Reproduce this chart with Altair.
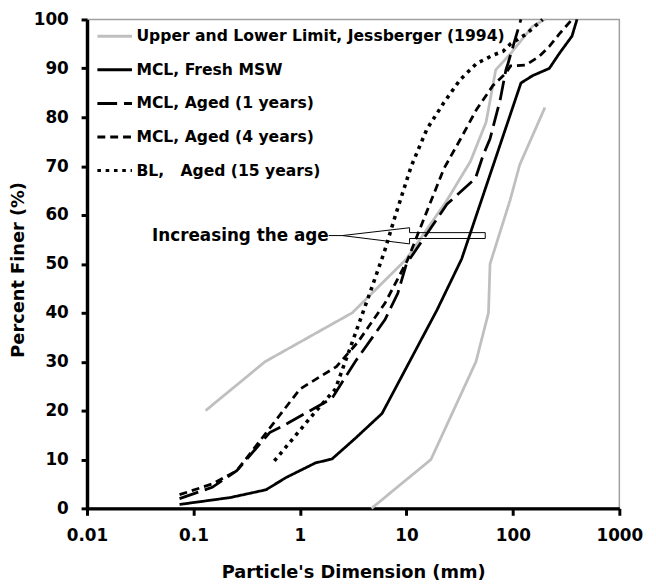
import altair as alt
import pandas as pd

SERIES = [
    "Upper and Lower Limit, Jessberger (1994)",
    "MCL, Fresh MSW",
    "MCL, Aged (1 years)",
    "MCL, Aged (4 years)",
    "BL,\u00a0\u00a0 Aged (15 years)",
]
COLORS = ["#bfbfbf", "black", "black", "black", "black"]
DASHES = [[1, 0], [1, 0], [20, 7], [8, 5], [3.6, 4.8]]

upper_x = [0.13, 0.47, 3.1, 10, 24, 40, 56, 69, 95, 153, 200]
upper_y = [20, 30, 40, 51, 63, 71, 79, 89.7, 93, 98.6, 100]

lower_x = [4.7, 17, 45, 59, 61, 94, 116, 200]
lower_y = [0, 10, 30, 40, 50, 63, 70.3, 82]

fresh_x = [0.074, 0.22, 0.48, 0.74, 1.4, 2.0, 3.3, 5.9, 11, 19.4, 33, 119, 153, 220, 272, 359, 400]
fresh_y = [0.8, 2.2, 3.8, 6.3, 9.3, 10.1, 14.3, 19.4, 30.5, 40.6, 51, 87, 88.5, 90, 93, 96.6, 100]

aged1_x = [0.074, 0.15, 0.255, 0.52, 0.71, 2.0, 3.3, 6.3, 8.3, 10, 24, 44.5, 52.7, 61, 76, 86, 90, 119]
aged1_y = [2.0, 4.3, 7.7, 15.5, 17, 22.5, 30, 38.6, 44, 50, 62.2, 67.5, 72.3, 75.6, 83.6, 89.7, 91, 100]

aged4_x = [0.074, 0.15, 0.255, 0.52, 1.0, 2.2, 3.5, 6.3, 10.2, 15.6, 22.5, 32.3, 45.6, 65, 86, 95, 133, 178, 220, 272, 359]
aged4_y = [2.8, 5.0, 7.7, 16.4, 24.4, 29, 34, 42, 50.7, 60.8, 69.5, 75.6, 81.6, 86.5, 89, 90.5, 90.7, 92.5, 94.5, 97, 100]

bl_x = [0.575, 1.4, 2.15, 3.1, 4.7, 6.25, 7.9, 11.1, 15.6, 22.5, 32, 45.6, 65, 81, 95, 133, 190]
bl_y = [9.7, 19.8, 24.4, 34, 45, 52.7, 60, 70, 77.6, 83, 87.7, 91, 92.7, 93.5, 95, 97, 100]

arrow_x = [1.86, 2.5, 10.7, 10.7, 55, 55, 10.7, 10.7, 2.5]
arrow_y = [55.8, 55.8, 57.4, 56.4, 56.4, 55.2, 55.2, 54.1, 55.8]

note_text = ["Increasing the age"]
note_x = [1.86]
note_y = [55.7]

curves = [
    ("upper", SERIES[0], upper_x, upper_y),
    ("lower", SERIES[0], lower_x, lower_y),
    ("fresh", SERIES[1], fresh_x, fresh_y),
    ("aged1", SERIES[2], aged1_x, aged1_y),
    ("aged4", SERIES[3], aged4_x, aged4_y),
    ("bl", SERIES[4], bl_x, bl_y),
]
rows = []
for cid, s, xs, ys in curves:
    for i, (xv, yv) in enumerate(zip(xs, ys)):
        rows.append({"x": xv, "y": yv, "series": s, "curve": cid, "order": i})
df = pd.DataFrame(rows)

arrow_df = pd.DataFrame({"x": arrow_x, "y": arrow_y, "order": list(range(len(arrow_x)))})
note_df = pd.DataFrame({"x": note_x, "y": note_y, "text": note_text})

FONT = "DejaVu Sans"

xscale = alt.Scale(type="log", domain=[0.01, 1000])
yscale = alt.Scale(domain=[0, 100])

xaxis = alt.Axis(
    values=[0.01, 0.1, 1, 10, 100, 1000], format="~g", grid=False,
    labelFont=FONT, labelFontWeight="bold", labelFontSize=17, labelColor="black",
    labelPadding=13, labelFlush=False, labelOverlap=False,
    domainColor="black", domainWidth=3.5, tickColor="black", tickWidth=3, tickSize=7,
    title="Particle's Dimension (mm)", titleFont=FONT, titleFontWeight="bold",
    titleFontSize=18, titleColor="black", titlePadding=20,
)
yaxis = alt.Axis(
    values=list(range(0, 101, 10)), grid=False,
    labelFont=FONT, labelFontWeight="bold", labelFontSize=17, labelColor="black",
    labelPadding=13, labelFlush=False,
    domainColor="black", domainWidth=3.5, tickColor="black", tickWidth=3, tickSize=6,
    title="Percent Finer (%)", titleFont=FONT, titleFontWeight="bold",
    titleFontSize=18, titleColor="black", titleAngle=-90, titleX=-64, titleY=253,
    titleBaseline="alphabetic", titleAlign="center",
)

legend = alt.Legend(
    orient="none", legendX=9, legendY=-2, title=None,
    symbolType="stroke", symbolSize=1225, symbolStrokeWidth=3,
    labelFont=FONT, labelFontWeight="bold", labelFontSize=15.8, labelColor="black",
    labelOffset=3, rowPadding=7, padding=0, labelLimit=500,
)

color_enc = alt.Color("series:N", scale=alt.Scale(domain=SERIES, range=COLORS), legend=legend)
dash_enc = alt.StrokeDash("series:N", scale=alt.Scale(domain=SERIES, range=DASHES), legend=legend)

base = alt.Chart(df).encode(
    x=alt.X("x:Q", scale=xscale, axis=xaxis),
    y=alt.Y("y:Q", scale=yscale, axis=yaxis),
    color=color_enc,
    strokeDash=dash_enc,
    detail="curve:N",
    order="order:Q",
)

lines = base.mark_line(strokeWidth=2.8).transform_filter(alt.datum.curve != "bl")
dots = base.mark_line(strokeWidth=3.6).transform_filter(alt.datum.curve == "bl")

arrow = alt.Chart(arrow_df).mark_line(color="black", strokeWidth=1).encode(
    x=alt.X("x:Q", scale=xscale),
    y=alt.Y("y:Q", scale=yscale),
    order="order:Q",
)

note = alt.Chart(note_df).mark_text(
    align="right", baseline="middle", font=FONT, fontWeight="bold", fontSize=17,
    color="black",
).encode(
    x=alt.X("x:Q", scale=xscale),
    y=alt.Y("y:Q", scale=yscale),
    text="text:N",
)

chart = alt.layer(lines, dots, arrow, note).properties(
    width=539, height=495, autosize="none",
    padding={"left": 80, "top": 8, "right": 29, "bottom": 76},
).configure_view(stroke="#a0a0a0", strokeWidth=1.5)

chart.save("out.html", embed_options={"renderer": "svg", "actions": False})
